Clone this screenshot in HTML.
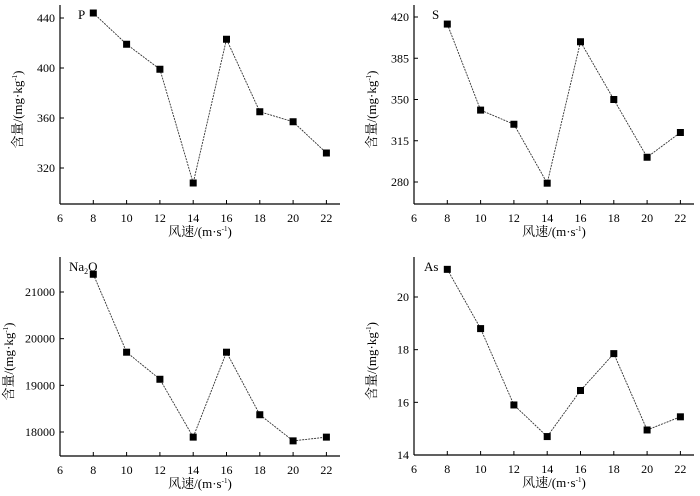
<!DOCTYPE html>
<html><head><meta charset="utf-8"><style>
body{margin:0;background:#fff;width:700px;height:491px;overflow:hidden}
svg{font-family:"Liberation Serif","Noto Serif CJK SC",serif}
</style></head><body>
<svg id="c" width="700" height="491"></svg>
<script>
const xCats=[8,10,12,14,16,18,20,22];
const xTicks=[6,8,10,12,14,16,18,20,22];
const pVals=[444,419,399,308,423,365,357,332];
const pTicks=[320,360,400,440];
const sVals=[414,341,329,279,399,350,301,322];
const sTicks=[280,315,350,385,420];
const naVals=[21380,19710,19130,17890,19710,18370,17810,17890];
const naTicks=[18000,19000,20000,21000];
const asVals=[21.05,18.8,15.9,14.7,16.45,17.85,14.95,15.45];
const asTicks=[14,16,18,20];

const NS='http://www.w3.org/2000/svg';
const svg=document.getElementById('c');
function mk(t,a,p){const e=document.createElementNS(NS,t);for(const k in a)e.setAttribute(k,a[k]);(p||svg).appendChild(e);return e;}
const panels=[
 {name:'p',label:'P',vals:pVals,ticks:pTicks,ax:60,top:5,bot:204,v0:320,y0:168,v1:440,y1:18,xr:340},
 {name:'s',label:'S',vals:sVals,ticks:sTicks,ax:414,top:5,bot:204,v0:280,y0:182,v1:420,y1:17,xr:694},
 {name:'na2o',label:'Na2O',vals:naVals,ticks:naTicks,ax:60,top:257,bot:456,v0:18000,y0:432,v1:21000,y1:292,xr:340},
 {name:'as',label:'As',vals:asVals,ticks:asTicks,ax:414,top:257,bot:455,v0:14,y0:455,v1:20,y1:297,xr:694}
];
panels.forEach(p=>{
 const g=mk('g',{});
 
 
 const xs=v=>p.ax+(v-6)*16.65;
 const ys=v=>p.y0+(v-p.v0)*(p.y1-p.y0)/(p.v1-p.v0);
 const ya=mk('line',{x1:p.ax,y1:p.top,x2:p.ax,y2:p.bot,stroke:'#000','stroke-width':1.2},g);
 
 const xa=mk('line',{x1:p.ax,y1:p.bot,x2:p.xr,y2:p.bot,stroke:'#000','stroke-width':1.2},g);
 
 xTicks.forEach(t=>{
  const x=xs(t);
  mk('line',{x1:x,y1:p.bot,x2:x,y2:p.bot-4,stroke:'#000'},g);
  const tx=mk('text',{x:x,y:p.bot+18,'text-anchor':'middle','font-size':12},g);
  tx.textContent=t;
  
 });
 p.ticks.forEach(t=>{
  const y=ys(t);
  mk('line',{x1:p.ax,y1:y,x2:p.ax+4,y2:y,stroke:'#000'},g);
  const tx=mk('text',{x:p.ax-5,y:y+4,'text-anchor':'end','font-size':12},g);
  tx.textContent=t;
  
 });
 const pts=p.vals.map((v,i)=>xs(xCats[i])+','+ys(v)).join(' ');
 const ln=mk('polyline',{points:pts,fill:'none',stroke:'#333','stroke-width':0.9,'stroke-dasharray':'2,1'},g);
 
 p.vals.forEach((v,i)=>{
  const r=mk('rect',{x:xs(xCats[i])-3.5,y:ys(v)-3.5,width:7,height:7,fill:'#000'},g);
  
 });
 const lb=mk('text',{x:p.ax+(p.name==='na2o'?9:(p.name==='as'?10:18)),y:p.top+14,'font-size':13},g);
 if(p.name==='na2o'){lb.innerHTML='Na<tspan font-size="8" dy="3">2</tspan><tspan dy="-3">O</tspan>';}
 else lb.textContent=p.label;
 
 const xt=mk('text',{x:(p.ax+p.xr)/2,y:p.bot+32,'text-anchor':'middle','font-size':13},g);
 xt.innerHTML='风速/(m·s<tspan font-size="7" dy="-5">-1</tspan><tspan dy="5">)</tspan>';
 
 const cx=p.ax-(p.name==='na2o'?47:38), cy=(p.top+p.bot)/2+5;
 const yt=mk('text',{x:cx,y:cy,'text-anchor':'middle','font-size':13,transform:'rotate(-90 '+cx+' '+cy+')'},g);
 yt.innerHTML='含量/(mg·kg<tspan font-size="7" dy="-5">-1</tspan><tspan dy="5">)</tspan>';
 
});
</script>
</body></html>
